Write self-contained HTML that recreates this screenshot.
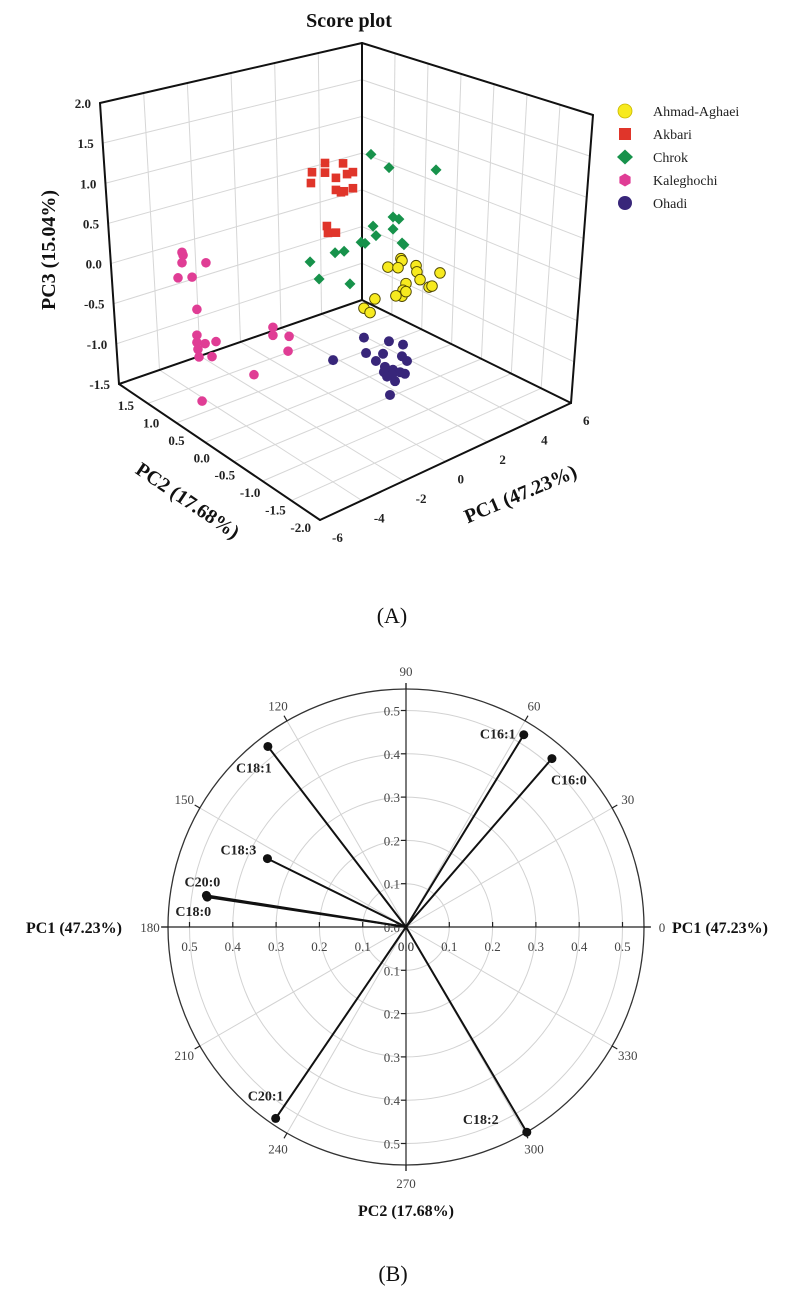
<!DOCTYPE html>
<html>
<head>
<meta charset="utf-8">
<style>
html,body{margin:0;padding:0;background:#fff;}
body{width:791px;height:1293px;overflow:hidden;}
svg{display:block;font-family:"Liberation Serif","Times New Roman",serif;}
</style>
</head>
<body>
<svg id="fig" width="791" height="1293" viewBox="0 0 791 1293" xmlns="http://www.w3.org/2000/svg">
  <rect width="791" height="1293" fill="#ffffff"/>
  <g id="plotA"></g>
  <g id="plotB"></g>
  <text x="392" y="623" font-size="22" text-anchor="middle" fill="#111">(A)</text>
  <text x="393" y="1281" font-size="22" text-anchor="middle" fill="#111">(B)</text>
</svg>
<script>
// ---------- Panel A data ----------
const groupNames = ["Ahmad-Aghaei","Akbari","Chrok","Kaleghochi","Ohadi"];
const ahmadPC1 = [2.14,2.19,1.52,2.0,2.86,2.90,3.05,4.0,2.38,2.24,2.19,1.90,3.48,3.62,0.90,0.38,0.67,2.38];
const ahmadPC2 = [-0.5,-0.5,-0.5,-0.5,-0.5,-0.5,-0.5,-0.5,-0.5,-0.5,-0.5,-0.5,-0.5,-0.5,-0.5,-0.5,-0.5,-0.5];
const ahmadPC3 = [0.31,0.28,0.26,0.21,0.16,0.08,-0.03,-0.03,-0.02,-0.09,-0.16,-0.13,-0.16,-0.16,-0.08,-0.15,-0.23,-0.12];
const akbariPC1 = [2.19,2.81,3.67,2.14,2.81,3.33,3.86,4.14,3.33,3.71,4.14,3.57,2.90,2.95,3.33];
const akbariPC2 = [1.0,1.0,1.0,1.0,1.0,1.0,1.0,1.0,1.0,1.0,1.0,1.0,1.0,1.0,1.0];
const akbariPC3 = [0.66,0.72,0.64,0.53,0.60,0.49,0.49,0.49,0.34,0.29,0.29,0.29,-0.07,-0.16,-0.19];
const chrokPC1 = [3.57,4.43,5.24,4.62,4.90,3.67,4.62,3.81,3.10,3.29,5.05,5.14,2.29,1.86,0.67,1.10,2.57];
const chrokPC2 = [0.5,0.5,0.0,0.5,0.5,0.5,0.5,0.5,0.5,0.5,0.5,0.5,0.5,0.5,0.5,0.5,0.5];
const chrokPC3 = [1.0,0.76,0.90,0.13,0.08,0.10,-0.02,-0.03,-0.05,-0.08,-0.23,-0.26,-0.09,-0.07,-0.08,-0.33,-0.52];
const kalePC1 = [-4.0,-3.95,-4.0,-2.86,-4.19,-3.52,-3.29,-3.29,-3.29,-2.90,-2.38,-3.24,-2.57,-3.19,0.33,0.33,1.10,1.05,-3.43,-5.9];
const kalePC2 = [1.0,1.0,1.0,1.0,1.0,1.0,1.0,1.0,1.0,1.0,1.0,1.0,1.0,1.0,1.0,1.0,1.0,1.0,0.0,0.0];
const kalePC3 = [0.21,0.17,0.08,-0.02,-0.09,-0.14,-0.56,-0.88,-0.97,-1.02,-1.04,-1.06,-1.21,-1.16,-1.10,-1.20,-1.28,-1.46,-0.88,-0.99];
const ohadiPC1 = [-1.05,0.14,0.81,-0.95,-0.14,0.76,1.0,-0.48,-0.05,-0.10,0.33,0.67,0.90,0.43,0.19,-2.52,0.29,0.05];
const ohadiPC2 = [-1.0,-1.0,-1.0,-1.0,-1.0,-1.0,-1.0,-1.0,-1.0,-1.0,-1.0,-1.0,-1.0,-1.0,-1.0,-1.0,-1.0,-1.0];
const ohadiPC3 = [-0.15,-0.30,-0.40,-0.35,-0.43,-0.54,-0.62,-0.49,-0.60,-0.66,-0.67,-0.73,-0.77,-0.82,-0.97,-0.30,-0.73,-0.73];
const pc1Ticks = [-6,-4,-2,0,2,4,6];
const pc2Ticks = [1.5,1.0,0.5,0.0,-0.5,-1.0,-1.5,-2.0];
const pc3Ticks = [-1.5,-1.0,-0.5,0.0,0.5,1.0,1.5,2.0];

// ---------- Panel B data ----------
const loadNames = ["C16:1","C16:0","C18:1","C18:3","C20:0","C18:0","C20:1","C18:2"];
const loadPC1 = [0.272,0.337,-0.319,-0.320,-0.461,-0.459,-0.301,0.279];
const loadPC2 = [0.444,0.389,0.417,0.158,0.073,0.069,-0.442,-0.474];
const radialTicks = [0.1,0.2,0.3,0.4,0.5];
const angleTicks = [0,30,60,90,120,150,180,210,240,270,300,330];

const NS = "http://www.w3.org/2000/svg";
function mk(tag, attrs, parent){
  const e = document.createElementNS(NS, tag);
  for (const k in attrs) e.setAttribute(k, attrs[k]);
  parent.appendChild(e);
  return e;
}
function fmt(v){ return v.toFixed(1); }

// ================= Panel A =================
const A = document.getElementById('plotA');
const Lb=[119,384], Bb=[362,300], Rb=[571,403], Fb=[320,520];
const Lt=[100,103], Bt=[362,43], Rt=[593,115];
function lerp(p,q,t){ return [p[0]+(q[0]-p[0])*t, p[1]+(q[1]-p[1])*t]; }
const t1 = v => (v+6)/12;
const t2 = v => (1.5-v)/3.5;
const t3 = v => (v+1.5)/3.5;
function proj(p1,p2,p3){
  const a = p1+6, b = p2-1.5, c = p3+1.5;
  return [110 + 21*a - 60*b, 385 - 7.08*a - 38.6*b - 80.6*c];
}

const grid = mk('g',{stroke:'#d6d6d6','stroke-width':1,fill:'none'},A);


function gline(p,q){ mk('line',{x1:p[0],y1:p[1],x2:q[0],y2:q[1]},grid); }
pc1Ticks.slice(1,-1).forEach(v=>{ const t=t1(v); gline(lerp(Lb,Bb,t), lerp(Lt,Bt,t)); });
pc3Ticks.slice(1,-1).forEach(v=>{ const t=t3(v); gline(lerp(Lb,Lt,t), lerp(Bb,Bt,t)); });
pc2Ticks.slice(1,-1).forEach(v=>{ const t=t2(v); gline(lerp(Bb,Rb,t), lerp(Bt,Rt,t)); });
pc3Ticks.slice(1,-1).forEach(v=>{ const t=t3(v); gline(lerp(Bb,Bt,t), lerp(Rb,Rt,t)); });
pc1Ticks.slice(1,-1).forEach(v=>{ const t=t1(v); gline(lerp(Lb,Bb,t), lerp(Fb,Rb,t)); });
pc2Ticks.slice(1,-1).forEach(v=>{ const t=t2(v); gline(lerp(Lb,Fb,t), lerp(Bb,Rb,t)); });

const box = mk('g',{stroke:'#111','stroke-width':2,fill:'none','stroke-linecap':'round'},A);


[[Lb,Lt],[Lt,Bt],[Bt,Bb],[Bt,Rt],[Rt,Rb],[Bb,Lb],[Bb,Rb],[Lb,Fb],[Fb,Rb]].forEach(s=>{
  mk('line',{x1:s[0][0],y1:s[0][1],x2:s[1][0],y2:s[1][1]},box);
});

const tk = mk('g',{'font-size':13,'font-weight':'bold',fill:'#222'},A);


pc3Ticks.forEach(v=>{
  const p = lerp(Lb,Lt,t3(v));
  const t = mk('text',{x:p[0]-9,y:p[1]+5,'text-anchor':'end'},tk);
  
  
  t.textContent = fmt(v);
});
const pc2LabStart=[134,410], pc2LabEnd=[311,532];
pc2Ticks.forEach(v=>{
  const p = lerp(pc2LabStart,pc2LabEnd,t2(v));
  const t = mk('text',{x:p[0],y:p[1],'text-anchor':'end'},tk);
  
  
  t.textContent = fmt(v);
});
pc1Ticks.forEach(v=>{
  const p = lerp(Fb,Rb,t1(v));
  const t = mk('text',{x:p[0]+12,y:p[1]+22,'text-anchor':'start'},tk);
  
  
  t.textContent = String(v);
});

const ttl = mk('text',{x:349,y:27,'font-size':20,'font-weight':'bold','text-anchor':'middle',fill:'#111'},A);


ttl.textContent = 'Score plot';
const yT = mk('text',{x:0,y:0,'font-size':20,'font-weight':'bold','text-anchor':'middle',fill:'#111',transform:'translate(55,250) rotate(-90)'},A);


yT.textContent = 'PC3 (15.04%)';
const p2T = mk('text',{x:0,y:0,'font-size':20,'font-weight':'bold','text-anchor':'middle',fill:'#111',transform:'translate(184,506) rotate(34)'},A);


p2T.textContent = 'PC2 (17.68%)';
const p1T = mk('text',{x:0,y:0,'font-size':20,'font-weight':'bold','text-anchor':'middle',fill:'#111',transform:'translate(523,500) rotate(-23)'},A);


p1T.textContent = 'PC1 (47.23%)';

function marker(parent, kind, x, y){
  let e;
  if(kind==='circleY'){ e = mk('circle',{cx:x,cy:y,r:5.3,fill:'#f7ea1f',stroke:'#4d4500','stroke-width':0.9},parent); }
  else if(kind==='square'){ e = mk('rect',{x:x-4.3,y:y-4.3,width:8.6,height:8.6,fill:'#e0352a'},parent); }
  else if(kind==='diamond'){ e = mk('polygon',{points:`${x},${y-5.5} ${x+5.5},${y} ${x},${y+5.5} ${x-5.5},${y}`,fill:'#17924b'},parent); }
  else if(kind==='pink'){ e = mk('circle',{cx:x,cy:y,r:4.8,fill:'#e03d95'},parent); }
  else { e = mk('circle',{cx:x,cy:y,r:5,fill:'#38267a'},parent); }
  return e;
}
const groups = [
  {name:'ohadi',kind:'purple',p1:ohadiPC1,p2:ohadiPC2,p3:ohadiPC3},
  {name:'kaleghochi',kind:'pink',p1:kalePC1,p2:kalePC2,p3:kalePC3},
  {name:'akbari',kind:'square',p1:akbariPC1,p2:akbariPC2,p3:akbariPC3},
  {name:'chrok',kind:'diamond',p1:chrokPC1,p2:chrokPC2,p3:chrokPC3},
  {name:'ahmad-aghaei',kind:'circleY',p1:ahmadPC1,p2:ahmadPC2,p3:ahmadPC3}
];
groups.forEach(g=>{
  const gg = mk('g',{},A);
  
  
  g.p1.forEach((v,i)=>{
    const p = proj(v, g.p2[i], g.p3[i]);
    const m = marker(gg, g.kind, p[0], p[1]);
    
    
  });
});

const leg = mk('g',{'font-size':14,fill:'#222'},A);


const legKinds = ['circleY','square','diamond','hex','purple'];
groupNames.forEach((n,i)=>{
  const y = 111 + i*23;
  const eg = mk('g',{},leg);
  
  
  if(legKinds[i]==='hex'){
    const x=625, r=6.5, pts=[];
    for(let k=0;k<6;k++){ const a=Math.PI/6+k*Math.PI/3; pts.push((x+r*Math.cos(a)).toFixed(1)+','+(y+r*Math.sin(a)).toFixed(1)); }
    mk('polygon',{points:pts.join(' '),fill:'#e03d95'},eg);
  } else if(legKinds[i]==='circleY'){
    mk('circle',{cx:625,cy:y,r:7,fill:'#f7ea1f',stroke:'#c9b800','stroke-width':0.8},eg);
  } else if(legKinds[i]==='square'){
    mk('rect',{x:619,y:y-6,width:12,height:12,fill:'#e0352a'},eg);
  } else if(legKinds[i]==='diamond'){
    mk('polygon',{points:`625,${y-7.5} 633,${y} 625,${y+7.5} 617,${y}`,fill:'#17924b'},eg);
  } else {
    mk('circle',{cx:625,cy:y,r:7,fill:'#38267a'},eg);
  }
  const t = mk('text',{x:653,y:y+5},eg);
  t.textContent = n;
});

// ================= Panel B =================
const B = document.getElementById('plotB');
const cx = 406, cy = 927, pxPerUnit = 433, Rout = 238;
const rx = v => cx + v*pxPerUnit;
const ry = v => cy - v*pxPerUnit;

const pg = mk('g',{stroke:'#d2d2d2','stroke-width':1,fill:'none'},B);


radialTicks.forEach(r=>{ mk('circle',{cx:cx,cy:cy,r:r*pxPerUnit},pg); });
angleTicks.forEach(a=>{
  if(a%90===0) return;
  const rad = a*Math.PI/180;
  mk('line',{x1:cx,y1:cy,x2:cx+Rout*Math.cos(rad),y2:cy-Rout*Math.sin(rad)},pg);
});
const outer = mk('circle',{cx:cx,cy:cy,r:Rout,fill:'none',stroke:'#333','stroke-width':1.3},B);



const ax = mk('g',{stroke:'#222','stroke-width':1.2},B);


mk('line',{x1:cx-Rout-7,y1:cy,x2:cx+Rout+7,y2:cy},ax);
mk('line',{x1:cx,y1:cy-Rout-6,x2:cx,y2:cy+Rout+6},ax);
angleTicks.forEach(a=>{
  const rad=a*Math.PI/180;
  mk('line',{x1:cx+Rout*Math.cos(rad),y1:cy-Rout*Math.sin(rad),x2:cx+(Rout+6)*Math.cos(rad),y2:cy-(Rout+6)*Math.sin(rad)},ax);
});
radialTicks.forEach(r=>{
  mk('line',{x1:rx(r),y1:cy,x2:rx(r),y2:cy-5},ax);
  mk('line',{x1:rx(-r),y1:cy,x2:rx(-r),y2:cy-5},ax);
  mk('line',{x1:cx,y1:ry(r),x2:cx-5,y2:ry(r)},ax);
  mk('line',{x1:cx,y1:ry(-r),x2:cx-5,y2:ry(-r)},ax);
});

const pl = mk('g',{'font-size':13,fill:'#444'},B);


[0].concat(radialTicks).forEach(r=>{
  let t = mk('text',{x:rx(r),y:cy+24,'text-anchor':'middle'},pl); t.textContent = fmt(r);
  t = mk('text',{x:rx(-r),y:cy+24,'text-anchor':'middle'},pl); t.textContent = fmt(r);
  t = mk('text',{x:cx-6,y:ry(r)+5,'text-anchor':'end'},pl); t.textContent = fmt(r);
  if(r>0){ t = mk('text',{x:cx-6,y:ry(-r)+5,'text-anchor':'end'},pl); t.textContent = fmt(r); }
});
angleTicks.forEach(a=>{
  const rad=a*Math.PI/180;
  const t = mk('text',{x:cx+256*Math.cos(rad),y:cy-256*Math.sin(rad)+5,'text-anchor':'middle'},pl);
  
  
  t.textContent = String(a);
});

const at = mk('g',{'font-size':16,'font-weight':'bold',fill:'#111'},B);


let tt = mk('text',{x:672,y:933},at); tt.textContent='PC1 (47.23%)';
tt = mk('text',{x:122,y:933,'text-anchor':'end'},at); tt.textContent='PC1 (47.23%)';
tt = mk('text',{x:406,y:1216,'text-anchor':'middle'},at); tt.textContent='PC2 (17.68%)';

const labelOffsets = {"C16:1":[-26,4],"C16:0":[17,26],"C18:1":[-14,26],"C18:3":[-29,-4],"C20:0":[-4,-9],"C18:0":[-14,19],"C20:1":[-10,-18],"C18:2":[-46,-8]};
const vg = mk('g',{},B);


loadNames.forEach((n,i)=>{
  const x = rx(loadPC1[i]), y = ry(loadPC2[i]);
  const ln = mk('line',{x1:cx,y1:cy,x2:x,y2:y,stroke:'#111','stroke-width':2},vg);
  
  
  const d = mk('circle',{cx:x,cy:y,r:4.5,fill:'#111'},vg);
  
  
  const o = labelOffsets[n];
  const t = mk('text',{x:x+o[0],y:y+o[1],'font-size':14,'font-weight':'bold','text-anchor':'middle',fill:'#222'},vg);
  
  
  t.textContent = n;
});
</script>
</body>
</html>
